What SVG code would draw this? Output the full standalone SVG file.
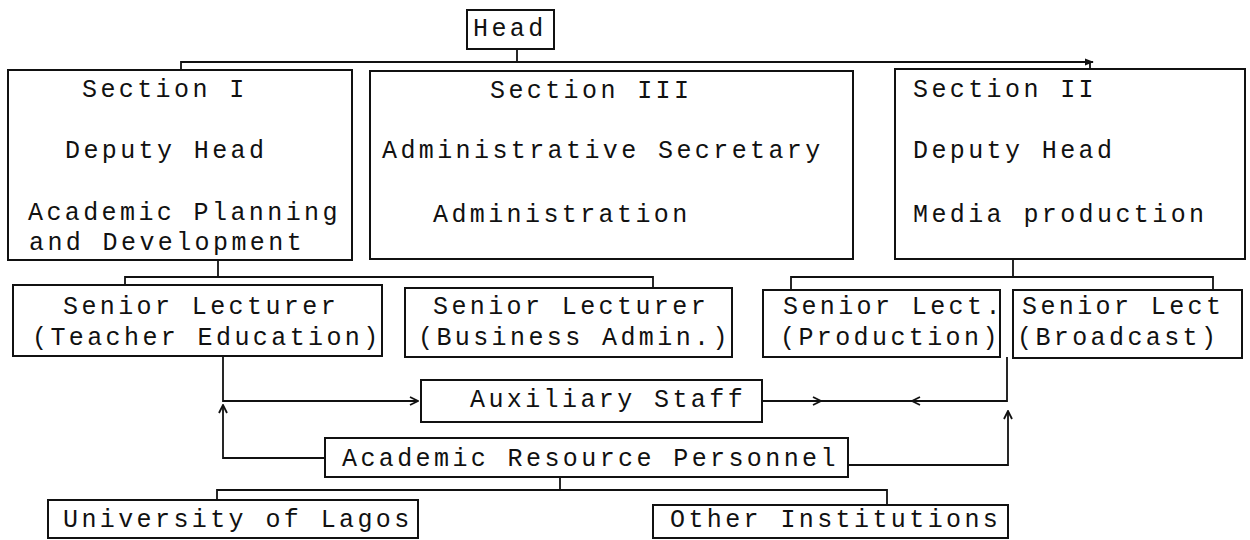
<svg xmlns="http://www.w3.org/2000/svg" width="1250" height="540" viewBox="0 0 1250 540">
<style>
.box{fill:none;stroke:#111;stroke-width:2}
.c{fill:none;stroke:#111;stroke-width:1.8}
.t{font-family:"Liberation Mono","Courier New",monospace;font-size:25px;letter-spacing:3.4px;fill:#111}
</style>
<defs>
<marker id="ah" viewBox="0 0 10 10" refX="9" refY="5" markerWidth="10" markerHeight="10" markerUnits="userSpaceOnUse" orient="auto"><path d="M1,1 L9,5 L1,9" fill="none" stroke="#111" stroke-width="1.8"/></marker>
<marker id="ahf" viewBox="0 0 10 10" refX="9" refY="5" markerWidth="9" markerHeight="9" markerUnits="userSpaceOnUse" orient="auto"><path d="M0,1 L10,5 L0,9 Z" fill="#111"/></marker>
</defs>
<rect width="1250" height="540" fill="#fff"/>
<g id="connectors">
<path class="c" d="M517,49 V62"/>
<path class="c" d="M181,70 V62 H1093" marker-end="url(#ahf)"/>
<path class="c" d="M1090,62 V69"/>
<path class="c" d="M218,260 V277 M125,285 V277 H653 V288"/>
<path class="c" d="M1013,259 V277 M791,290 V277 H1213 V290"/>
<path class="c" d="M223,356 V401 H418" marker-end="url(#ah)"/>
<path class="c" d="M325,458 H223 V405" marker-end="url(#ah)"/>
<path class="c" d="M762,401 H821" marker-end="url(#ah)"/>
<path class="c" d="M821,401 H912"/>
<path class="c" d="M1007,357 V401 H912" marker-end="url(#ah)"/>
<path class="c" d="M848,465 H1008 V411" marker-end="url(#ah)"/>
<path class="c" d="M560,477 V490 M217,500 V490 H887 V505"/>
</g>
<g id="head"><rect class="box" x="467" y="10" width="87" height="39"/><text class="t" x="473" y="36">Head</text></g>
<g id="section1"><rect class="box" x="8" y="70" width="344" height="190"/>
<text class="t" x="82" y="97">Section I</text>
<text class="t" x="65" y="158">Deputy Head</text>
<text class="t" x="28" y="220">Academic Planning</text>
<text class="t" x="29" y="250">and Development</text></g>
<g id="section3"><rect class="box" x="370" y="71" width="483" height="188"/>
<text class="t" x="490" y="98">Section III</text>
<text class="t" x="382" y="158">Administrative Secretary</text>
<text class="t" x="433" y="222">Administration</text></g>
<g id="section2"><rect class="box" x="895" y="69" width="350" height="190"/>
<text class="t" x="913" y="97">Section II</text>
<text class="t" x="913" y="158">Deputy Head</text>
<text class="t" x="913" y="222">Media production</text></g>
<g id="sl-teacher"><rect class="box" x="13" y="285" width="369" height="71"/>
<text class="t" x="63" y="314">Senior Lecturer</text>
<text class="t" x="32" y="345">(Teacher Education)</text></g>
<g id="sl-business"><rect class="box" x="405" y="288" width="327" height="69"/>
<text class="t" x="433" y="314">Senior Lecturer</text>
<text class="t" x="418" y="345">(Business Admin.)</text></g>
<g id="sl-production"><rect class="box" x="763" y="290" width="237" height="67"/>
<text class="t" x="783" y="314">Senior Lect.</text>
<text class="t" x="780" y="345">(Production)</text></g>
<g id="sl-broadcast"><rect class="box" x="1013" y="290" width="229" height="68"/>
<text class="t" x="1022" y="314">Senior Lect</text>
<text class="t" x="1017" y="345">(Broadcast)</text></g>
<g id="auxiliary"><rect class="box" x="421" y="380" width="341" height="42"/>
<text class="t" x="470" y="407">Auxiliary Staff</text></g>
<g id="arp"><rect class="box" x="325" y="438" width="523" height="39"/>
<text class="t" x="342" y="466">Academic Resource Personnel</text></g>
<g id="unilag"><rect class="box" x="48" y="500" width="370" height="38"/>
<text class="t" x="63" y="527">University of Lagos</text></g>
<g id="other"><rect class="box" x="653" y="505" width="355" height="33"/>
<text class="t" x="670" y="527">Other Institutions</text></g>
</svg>
